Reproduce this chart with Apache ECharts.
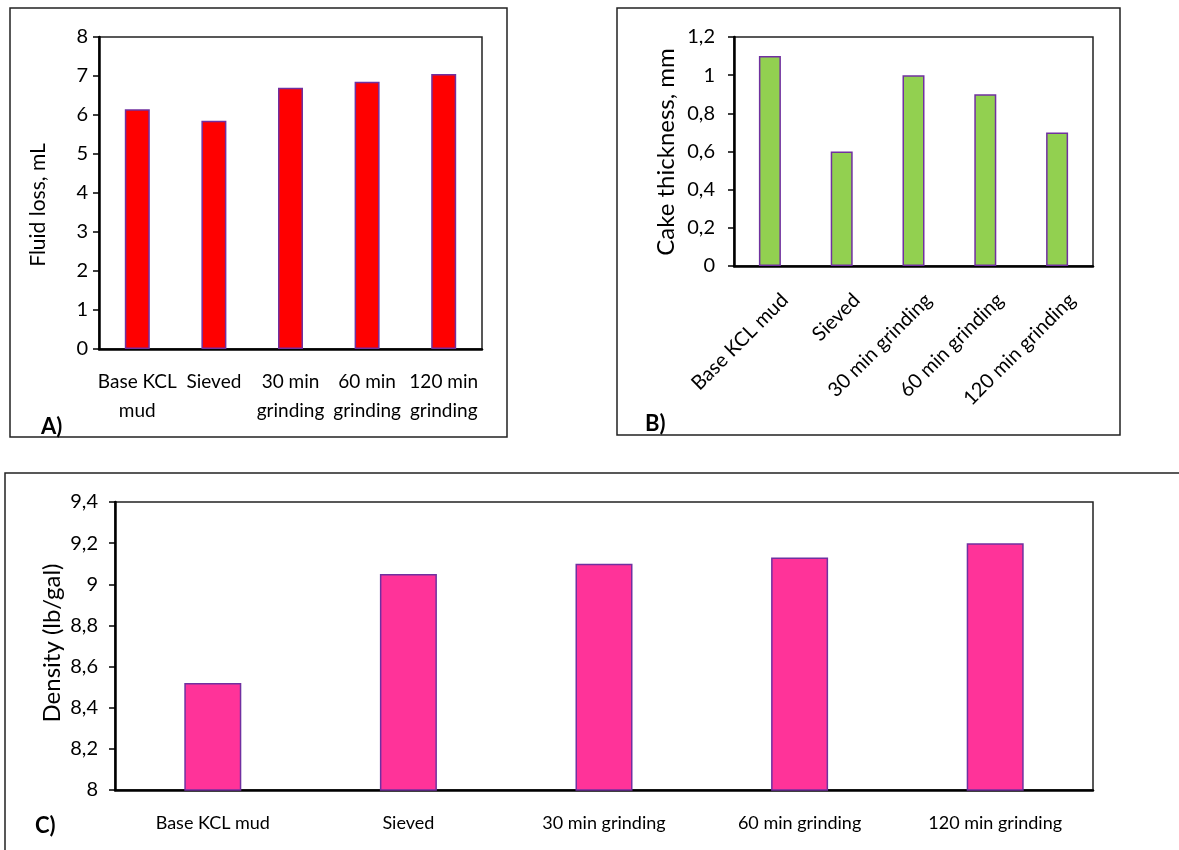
<!DOCTYPE html>
<html>
<head>
<meta charset="utf-8">
<title>Mud properties</title>
<script src="https://cdn.jsdelivr.net/npm/echarts@6/dist/echarts.min.js"></script>
<style>
  html, body { margin: 0; padding: 0; background: #fff; }
  #chart { width: 1179px; height: 850px; }
</style>
</head>
<body>
<div id="chart"></div>
<script>
// Samples shared by all three panels
const categories = ['Base KCL mud', 'Sieved', '30 min grinding', '60 min grinding', '120 min grinding'];

// Panel A: fluid loss (mL)
const fluidLoss = [6.15, 5.85, 6.7, 6.85, 7.05];
const fluidLossTicks = [0, 1, 2, 3, 4, 5, 6, 7, 8];

// Panel B: filter cake thickness (mm)
const cakeThickness = [1.1, 0.6, 1.0, 0.9, 0.7];
const cakeTicks = [0, 0.2, 0.4, 0.6, 0.8, 1.0, 1.2];

// Panel C: mud density (lb/gal)
const density = [8.52, 9.05, 9.10, 9.13, 9.20];
const densityTicks = [8, 8.2, 8.4, 8.6, 8.8, 9.0, 9.2, 9.4];

// Axis titles
const titleA = 'Fluid loss, mL';
const titleB = 'Cake thickness, mm';
const titleC = 'Density (lb/gal)';

const FONT = 'Lato, "Open Sans", sans-serif';
const BORDER = '#7030a0';

// decimal comma, as in the printed figure
const commaFmt = v => String(+(+v).toFixed(1)).replace('.', ',');
// two-line category labels for panel A
const wrapFmt = v => v.replace(/ (mud|grinding)$/, '\n$1');

function valueAxis(gridIndex, ticks, labelMargin) {
  return {
    type: 'value',
    gridIndex,
    min: ticks[0],
    max: ticks[ticks.length - 1],
    interval: +(ticks[1] - ticks[0]).toFixed(2),
    axisLine: { show: true, lineStyle: { color: '#000', width: 2.5 } },
    axisTick: { show: true, length: 6, lineStyle: { color: '#000', width: 1.5 } },
    axisLabel: { fontFamily: FONT, fontSize: 20, color: '#000', margin: labelMargin, formatter: commaFmt },
    splitLine: { show: false }
  };
}

function catAxis(gridIndex, labelOpts) {
  return {
    type: 'category',
    gridIndex,
    data: categories,
    axisLine: { show: true, lineStyle: { color: '#000', width: 2.5 } },
    axisTick: { show: false },
    axisLabel: Object.assign({ fontFamily: FONT, color: '#000', interval: 0 }, labelOpts)
  };
}

function barSeries(idx, data, color, width) {
  return {
    type: 'bar',
    xAxisIndex: idx,
    yAxisIndex: idx,
    data,
    barWidth: width,
    itemStyle: { color, borderColor: BORDER, borderWidth: 1.5 },
    silent: true
  };
}

// vertical axis title, centred on (x, y)
function yTitle(text, x, y, size) {
  return {
    type: 'text', x, y, rotation: Math.PI / 2, silent: true,
    style: { text, font: size + 'px ' + FONT, fill: '#000', align: 'center', verticalAlign: 'middle' }
  };
}

function frame(x, y, w, h) {
  return { type: 'rect', shape: { x, y, width: w, height: h }, silent: true,
           style: { fill: 'none', stroke: '#222', lineWidth: 1.5 } };
}

function letter(text, left, top) {
  return { type: 'text', left, top, silent: true, style: { text, font: 'bold 22px ' + FONT, fill: '#000' } };
}

const gridStyle = { show: true, borderColor: '#222', borderWidth: 1.5, backgroundColor: 'transparent' };

const option = {
  animation: false,
  grid: [
    Object.assign({ left: 99, top: 37, width: 383, height: 312 }, gridStyle),
    Object.assign({ left: 734, top: 37, width: 359, height: 229 }, gridStyle),
    Object.assign({ left: 115, top: 502, width: 978, height: 288 }, gridStyle)
  ],
  xAxis: [
    catAxis(0, { fontSize: 19, margin: 18, lineHeight: 29, formatter: wrapFmt }),
    catAxis(1, { fontSize: 20, margin: 16, rotate: 45, verticalAlign: 'top', padding: [11, 0, 0, 0] }),
    catAxis(2, { fontSize: 18, margin: 24 })
  ],
  yAxis: [
    valueAxis(0, fluidLossTicks, 11),
    valueAxis(1, cakeTicks, 19),
    valueAxis(2, densityTicks, 17)
  ],
  series: [
    barSeries(0, fluidLoss, '#ff0000', 25),
    barSeries(1, cakeThickness, '#92d050', 22),
    barSeries(2, density, '#ff3399', 57)
  ],
  graphic: [
    frame(10, 8, 497, 429),
    frame(617, 8, 503, 427),
    frame(5, 473, 1190, 400),
    yTitle(titleA, 38, 205, 21),
    yTitle(titleB, 666, 152, 24),
    yTitle(titleC, 52, 643, 24),
    letter('A)', 41, 416),
    letter('B)', 645, 413),
    letter('C)', 35, 815)
  ]
};

const chart = echarts.init(document.getElementById('chart'), null, { renderer: 'canvas' });
chart.setOption(option);
</script>
</body>
</html>
